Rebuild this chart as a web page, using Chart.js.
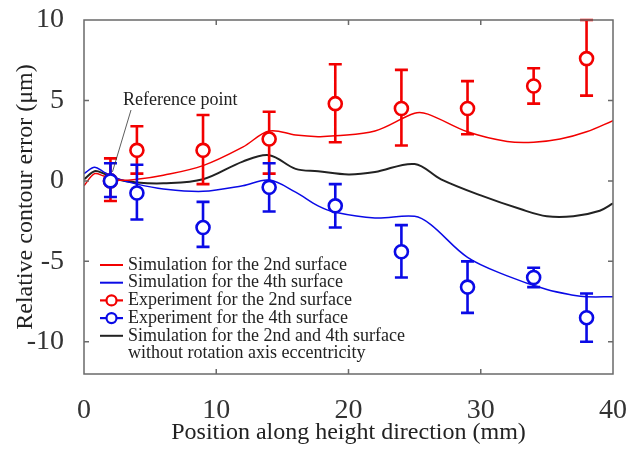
<!DOCTYPE html>
<html>
<head>
<meta charset="utf-8">
<script src="https://cdn.jsdelivr.net/npm/chart.js@4"></script>
<style>
  html, body { margin: 0; padding: 0; background: #fff; }
  #wrap { width: 638px; height: 450px; }
</style>
</head>
<body>
<div id="wrap"><canvas id="contour-chart" width="638" height="450"></canvas></div>
<script>
// axis ticks
var xTicks = [0, 10, 20, 30, 40];
var yTicks = [-10, -5, 0, 5, 10];

// simulated contour error, 2nd surface
var sim2X = [0, 0.8, 1.5, 2.5, 4, 6, 9, 12, 14, 16, 17.7, 19, 22, 25, 26, 29, 32, 34, 36, 38, 40];
var sim2Y = [-0.3, 0.45, 0.3, 0.05, 0.1, 0.35, 0.95, 2.1, 3.1, 2.85, 2.75, 2.8, 3.1, 4.2, 4.15, 3.05, 2.45, 2.4, 2.6, 3.05, 3.75];

// simulated contour error, 4th surface
var sim4X = [0, 0.8, 1.5, 2.5, 4, 6, 9, 12, 14, 16, 17.7, 19, 22, 25, 26.2, 29, 32, 35, 37, 38, 40];
var sim4Y = [0.45, 0.85, 0.55, 0.15, -0.2, -0.5, -0.65, -0.3, 0.05, -0.7, -1.55, -1.95, -2.3, -2.2, -2.7, -4.75, -5.9, -6.75, -7.1, -7.2, -7.2];

// simulated, no rotation axis eccentricity
var simNoX = [0, 0.8, 1.5, 2.5, 4, 6, 9, 12, 14, 16, 17.7, 20, 22, 25, 27, 30, 33, 35, 37, 39, 40];
var simNoY = [0.1, 0.6, 0.45, 0.1, -0.1, -0.15, 0.1, 1.2, 1.6, 0.75, 0.6, 0.4, 0.55, 1.05, 0.1, -0.9, -1.75, -2.2, -2.2, -1.85, -1.4];

// measured points with error bars
var expX = [2, 4, 9, 14, 19, 24, 29, 34, 38];
var exp2Y = [0, 1.9, 1.9, 2.6, 4.8, 4.5, 4.5, 5.9, 7.6];
var exp2Hi = [1.4, 3.4, 4.1, 4.3, 7.25, 6.9, 6.2, 7.0, 10.0];
var exp2Lo = [-1.25, 0.45, -0.2, 0.45, 2.4, 2.2, 2.9, 4.8, 5.3];
var exp4Y = [0, -0.75, -2.9, -0.4, -1.55, -4.4, -6.6, -6.0, -8.5];
var exp4Hi = [1.1, 1.0, -1.3, 1.1, -0.2, -2.75, -5.0, -5.4, -7.0];
var exp4Lo = [-1.0, -2.4, -4.1, -1.9, -2.9, -6.0, -8.2, -6.6, -10.0];

var RED = '#f20000';
var BLUE = '#0a0ae6';
var BLACK = '#222222';
var SERIF = '"Liberation Serif", "Times New Roman", serif';

function pts(xs, ys) {
    return xs.map(function (x, i) { return { x: x, y: ys[i] }; });
}

// no extra room for the end tick labels, the layout padding decides
function noEdgePadding(scale) {
    scale.paddingTop = 0;
    scale.paddingBottom = 0;
    scale.paddingLeft = 0;
    scale.paddingRight = 0;
}

// frame with inward tick marks
var framePlugin = {
    id: 'frame',
    afterDatasetsDraw: function (chart) {
        var a = chart.chartArea, ctx = chart.ctx;
        var sx = chart.scales.x, sy = chart.scales.y;
        ctx.save();
        ctx.strokeStyle = '#6a6a6a';
        ctx.lineWidth = 1.5;
        ctx.strokeRect(a.left, a.top, a.right - a.left, a.bottom - a.top);
        ctx.beginPath();
        xTicks.forEach(function (v) {
            var px = sx.getPixelForValue(v);
            if (px <= a.left + 1 || px >= a.right - 1) return;
            ctx.moveTo(px, a.bottom); ctx.lineTo(px, a.bottom - 5);
            ctx.moveTo(px, a.top); ctx.lineTo(px, a.top + 5);
        });
        yTicks.forEach(function (v) {
            var py = sy.getPixelForValue(v);
            if (py <= a.top + 1 || py >= a.bottom - 1) return;
            ctx.moveTo(a.left, py); ctx.lineTo(a.left + 5, py);
            ctx.moveTo(a.right, py); ctx.lineTo(a.right - 5, py);
        });
        ctx.stroke();
        ctx.restore();
    }
};

// vertical error bars, drawn just before their own markers
var errorBarPlugin = {
    id: 'errorBars',
    beforeDatasetDraw: function (chart, args) {
        var ds = chart.data.datasets[args.index];
        if (!ds.errHi) return;
        var ctx = chart.ctx, sx = chart.scales.x, sy = chart.scales.y;
        ctx.save();
        ctx.strokeStyle = ds.borderColor;
        ctx.lineWidth = 2.6;
        ctx.beginPath();
        ds.data.forEach(function (p, i) {
            var px = sx.getPixelForValue(p.x);
            var top = sy.getPixelForValue(ds.errHi[i]);
            var bot = sy.getPixelForValue(ds.errLo[i]);
            ctx.moveTo(px, top); ctx.lineTo(px, bot);
            ctx.moveTo(px - 6.5, top); ctx.lineTo(px + 6.5, top);
            ctx.moveTo(px - 6.5, bot); ctx.lineTo(px + 6.5, bot);
        });
        ctx.stroke();
        ctx.restore();
    }
};

// legend inside the plot and the reference point note
var notePlugin = {
    id: 'notes',
    afterDraw: function (chart) {
        var ctx = chart.ctx, sx = chart.scales.x, sy = chart.scales.y;
        ctx.save();
        ctx.font = '18px ' + SERIF;
        ctx.textBaseline = 'middle';
        ctx.fillStyle = '#222';
        var y = 265;
        chart.data.datasets.forEach(function (ds) {
            ctx.strokeStyle = ds.borderColor;
            ctx.lineWidth = ds.errHi ? 2.2 : 2;
            ctx.beginPath();
            ctx.moveTo(100, y); ctx.lineTo(123, y);
            ctx.stroke();
            if (ds.errHi) {
                ctx.beginPath();
                ctx.fillStyle = '#fff';
                ctx.arc(111.5, y, 5, 0, Math.PI * 2);
                ctx.fill(); ctx.stroke();
            }
            ctx.fillStyle = '#222';
            ds.label.split('\n').forEach(function (line) {
                ctx.fillText(line, 128, y);
                y += 17.7;
            });
        });

        // reference point pointer
        ctx.fillText('Reference point', 123, 100);
        ctx.strokeStyle = '#333';
        ctx.lineWidth = 0.8;
        ctx.beginPath();
        ctx.moveTo(131, 110);
        ctx.lineTo(sx.getPixelForValue(2) + 2, sy.getPixelForValue(0) - 9);
        ctx.stroke();
        ctx.restore();
    }
};

new Chart(document.getElementById('contour-chart'), {
    type: 'line',
    data: {
        datasets: [
            {
                label: 'Simulation for the 2nd surface',
                data: pts(sim2X, sim2Y),
                borderColor: RED, borderWidth: 1.5,
                pointRadius: 0, tension: 0.35, order: 2
            },
            {
                label: 'Simulation for the 4th surface',
                data: pts(sim4X, sim4Y),
                borderColor: BLUE, borderWidth: 1.5,
                pointRadius: 0, tension: 0.35, order: 2
            },
            {
                label: 'Experiment for the 2nd surface',
                data: pts(expX, exp2Y),
                errHi: exp2Hi, errLo: exp2Lo,
                borderColor: RED, backgroundColor: '#fff',
                showLine: false, pointRadius: 6.5, pointBorderWidth: 2.6, order: 1
            },
            {
                label: 'Experiment for the 4th surface',
                data: pts(expX, exp4Y),
                errHi: exp4Hi, errLo: exp4Lo,
                borderColor: BLUE, backgroundColor: '#fff',
                showLine: false, pointRadius: 6.5, pointBorderWidth: 2.6, order: 0
            },
            {
                label: 'Simulation for the 2nd and 4th surface\nwithout rotation axis eccentricity',
                data: pts(simNoX, simNoY),
                borderColor: BLACK, borderWidth: 2,
                pointRadius: 0, tension: 0.35, order: 2
            }
        ]
    },
    options: {
        responsive: false,
        animation: false,
        devicePixelRatio: 1,
        layout: { padding: { top: 20, right: 25, left: 0, bottom: 0 } },
        plugins: {
            legend: { display: false },
            tooltip: { enabled: false }
        },
        scales: {
            x: {
                type: 'linear',
                min: 0, max: 40,
                grid: { display: false, drawTicks: false },
                border: { display: false },
                afterBuildTicks: function (scale) {
                    scale.ticks = xTicks.map(function (v) { return { value: v }; });
                },
                afterFit: function (scale) {
                    scale.height = 76;
                    noEdgePadding(scale);
                },
                ticks: {
                    padding: 20,
                    color: '#333',
                    font: { family: SERIF, size: 28 },
                    maxRotation: 0
                },
                title: {
                    display: true,
                    text: 'Position along height direction (mm)',
                    color: '#222',
                    font: { family: SERIF, size: 24 },
                    padding: { top: 0, bottom: 3 }
                }
            },
            y: {
                type: 'linear',
                min: -12, max: 10,
                grid: { display: false, drawTicks: false },
                border: { display: false },
                afterBuildTicks: function (scale) {
                    scale.ticks = yTicks.map(function (v) { return { value: v }; });
                },
                afterFit: function (scale) {
                    scale.width = 84;
                    noEdgePadding(scale);
                },
                ticks: {
                    padding: 20,
                    color: '#333',
                    font: { family: SERIF, size: 28 }
                },
                title: {
                    display: true,
                    text: 'Relative contour error (μm)',
                    color: '#222',
                    font: { family: SERIF, size: 24 },
                    padding: { top: 11, bottom: 0 }
                }
            }
        }
    },
    plugins: [errorBarPlugin, framePlugin, notePlugin]
});
</script>
</body>
</html>
